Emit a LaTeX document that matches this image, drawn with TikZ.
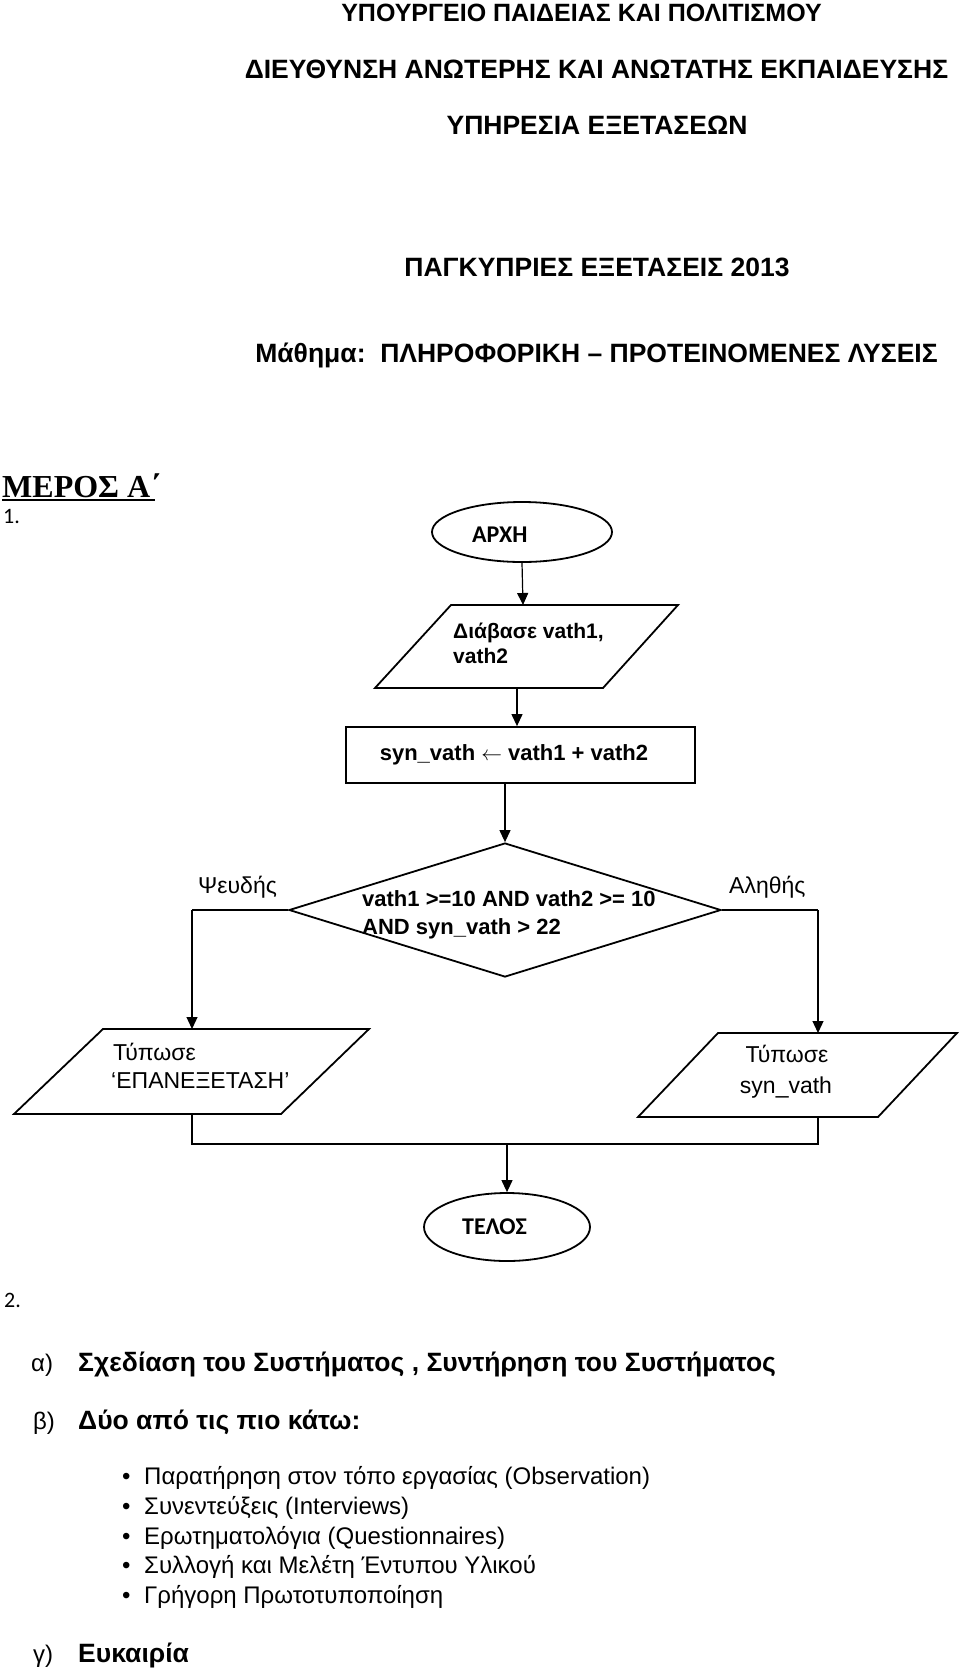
\documentclass[tikz,border=0pt]{standalone}
\usepackage{fontspec}
\setmainfont{Liberation Sans}
\newfontfamily\serifgr{Liberation Serif}
\newfontfamily\calib{Carlito}
\usetikzlibrary{shapes.geometric,arrows.meta}
\begin{document}
\begin{tikzpicture}[x=1pt,y=-1pt,
  title/.style={anchor=base,inner sep=0pt,font={\fontsize{26.5}{30}\selectfont\bfseries}},
  txt/.style={anchor=base west,inner sep=0pt,font={\fontsize{23}{27}\selectfont}},
  ltxt/.style={anchor=base west,inner sep=0pt,font={\fontsize{24}{28}\selectfont}},
  btxt/.style={anchor=base west,inner sep=0pt,font={\fontsize{26.5}{30}\selectfont\bfseries}},
  fbold/.style={anchor=base west,inner sep=0pt,font={\fontsize{21}{25}\selectfont\bfseries}},
  dbold/.style={anchor=base west,inner sep=0pt,font={\fontsize{22}{26}\selectfont\bfseries}},
  freg/.style={anchor=base,inner sep=0pt,font={\fontsize{23}{27}\selectfont}},
  calb/.style={anchor=base west,inner sep=0pt,font={\fontsize{22}{26}\selectfont\calib}},
  shapeline/.style={draw=black,line width=1.8pt},
  conn/.style={draw=black,line width=1.2pt},
  arr/.style={conn,-{Triangle[length=12pt,width=11pt]}},
  term/.style={shapeline,ellipse,inner sep=0pt},
]
\useasboundingbox (0,0) rectangle (960,1668);
% titles
\node[title,font={\fontsize{25}{30}\selectfont\bfseries}] (t1) at (581.5,21) {ΥΠΟΥΡΓΕΙΟ ΠΑΙΔΕΙΑΣ ΚΑΙ ΠΟΛΙΤΙΣΜΟΥ};
\node[title] (t2) at (596.5,78) {ΔΙΕΥΘΥΝΣΗ ΑΝΩΤΕΡΗΣ ΚΑΙ ΑΝΩΤΑΤΗΣ ΕΚΠΑΙΔΕΥΣΗΣ};
\node[title] (t3) at (597,134) {ΥΠΗΡΕΣΙΑ ΕΞΕΤΑΣΕΩΝ};
\node[title] (t4) at (597,276) {ΠΑΓΚΥΠΡΙΕΣ ΕΞΕΤΑΣΕΙΣ 2013};
\node[title] (t5) at (596.5,362) {Μάθημα:\ \ ΠΛΗΡΟΦΟΡΙΚΗ – ΠΡΟΤΕΙΝΟΜΕΝΕΣ ΛΥΣΕΙΣ};
% part A heading
\node[anchor=base west,inner sep=0pt,font={\fontsize{32}{36}\selectfont\serifgr\bfseries}] (meros) at (2,497) {ΜΕΡΟΣ Α΄};
\draw[line width=2pt] (meros.base west) ++(0,3) coordinate (ulA) -- (155,500) coordinate (ulB);
\node[calb] (n1) at (3,523) {1.};
% flowchart
\node[term,minimum width=180pt,minimum height=60pt] (start) at (522,532) {};
\node[anchor=base west,inner sep=0pt,font={\fontsize{24}{28}\selectfont\calib\bfseries}] (startlbl) at (472,542) {ΑΡΧΗ};
% read parallelogram
\draw[shapeline] (451,605) -- (678,605) -- (603,688) -- (375,688) -- cycle;
\coordinate (readT) at (523,605);
\coordinate (readB) at (517,688);
\node[fbold] (read1) at (453,638) {Διάβασε vath1,};
\node[fbold] (read2) at (453,663) {vath2};
% assignment
\node[shapeline,rectangle,minimum width=349pt,minimum height=56pt,inner sep=0pt,font={\fontsize{22}{26}\selectfont\bfseries}] (assign) at (520.5,755) {\hspace*{-13pt}syn\_vath $\leftarrow$ vath1 + vath2};
% decision
\node[shapeline,diamond,minimum width=432pt,minimum height=134pt,inner sep=0pt] (dec) at (505,910) {};
\node[dbold] (dec1) at (362,906) {vath1 >=10 AND vath2 >= 10};
\node[dbold] (dec2) at (362,934) {AND syn\_vath > 22};
\node[txt] (lblF) at (198,893) {Ψευδής};
\node[txt] (lblT) at (729,893) {Αληθής};
% left print
\draw[shapeline] (103,1029) -- (369,1029) -- (281,1114) -- (14,1114) -- cycle;
\coordinate (prLT) at (192,1029);
\coordinate (prLB) at (192,1114);
\node[txt] (prL1) at (113,1060) {Τύπωσε};
\node[txt] (prL2) at (111,1088) {‘ΕΠΑΝΕΞΕΤΑΣΗ’};
% right print
\draw[shapeline] (718,1033) -- (957,1033) -- (878,1117) -- (638,1117) -- cycle;
\coordinate (prRT) at (818,1033);
\coordinate (prRB) at (818,1117);
\node[freg] (prR1) at (787,1062) {Τύπωσε};
\node[freg] (prR2) at (786,1093) {syn\_vath};
% end
\node[term,minimum width=166pt,minimum height=68pt] (stop) at (507,1227) {};
\node[anchor=base west,inner sep=0pt,font={\fontsize{24}{28}\selectfont\calib\bfseries}] (stoplbl) at (462,1234) {ΤΕΛΟΣ};
% connectors
\coordinate (fL) at (192,910);
\coordinate (tR) at (818,910);
\coordinate (mL) at (192,1144);
\coordinate (mR) at (818,1144);
\coordinate (mC) at (507,1144);
\draw[arr] (start.south) -- (readT);
\draw[arr] (readB) -- (readB |- assign.north);
\draw[arr] (dec.north |- assign.south) -- (dec.north);
\draw[conn] (dec.west) -- (fL);
\draw[arr] (fL) -- (prLT);
\draw[conn] (dec.east) -- (tR);
\draw[arr] (tR) -- (prRT);
\draw[conn] (prLB) -- (mL) -- (mR) -- (prRB);
\draw[arr] (mC) -- (stop.north);
% part 2
\node[calb] (n2) at (4,1307) {2.};
\node[ltxt] (la) at (31,1371) {α)};
\node[btxt] (ta) at (78,1371) {Σχεδίαση του Συστήματος , Συντήρηση του Συστήματος};
\node[ltxt] (lb) at (33,1429) {β)};
\node[btxt] (tb) at (78,1429) {Δύο από τις πιο κάτω:};
\foreach \y/\t [count=\i] in {1484/{Παρατήρηση στον τόπο εργασίας (Observation)},
  1514/{Συνεντεύξεις (Interviews)},
  1544/{Ερωτηματολόγια (Questionnaires)},
  1573/{Συλλογή και Μελέτη Έντυπου Υλικού},
  1603/{Γρήγορη Πρωτοτυποποίηση}}{
  \node[ltxt] (bul\i) at (122,\y) {•};
  \node[ltxt] (item\i) at (144,\y) {\t};
}
\node[ltxt] (lc) at (33,1662) {γ)};
\node[btxt] (tc) at (78,1662) {Ευκαιρία};
\end{tikzpicture}
\end{document}
